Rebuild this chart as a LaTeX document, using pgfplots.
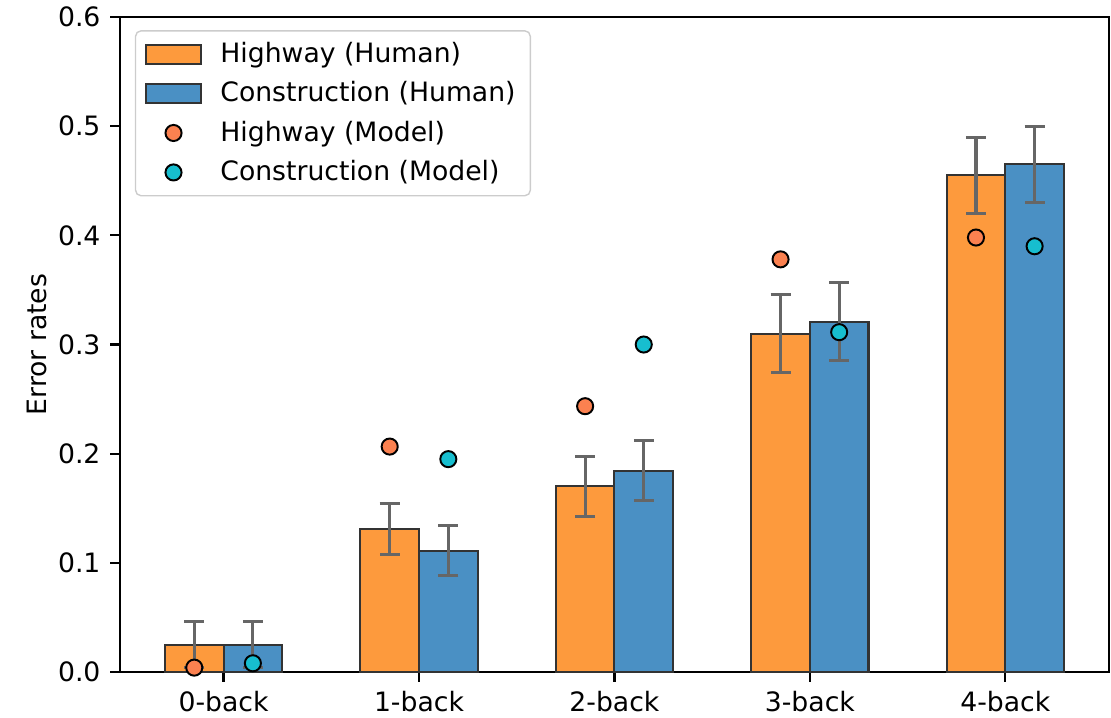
\documentclass[border=0pt]{standalone}
\usepackage{pgfplots}
\pgfplotsset{compat=1.18}
\usepackage{fontspec}
\setmainfont{DejaVu Sans}
\definecolor{horange}{HTML}{FD9A3D}
\definecolor{cblue}{HTML}{4A90C4}
\definecolor{morange}{HTML}{FB8150}
\definecolor{mcyan}{HTML}{17BECF}
\definecolor{edgec}{HTML}{333333}
\definecolor{errc}{HTML}{666666}
\definecolor{legc}{HTML}{CCCCCC}
\begin{document}
\begin{tikzpicture}[font=\fontsize{9.6}{11.5}\selectfont]
\begin{axis}[
  at={(0,0)}, anchor=south west,
  scale only axis, width=356pt, height=235.8pt,
  xmin=-0.53, xmax=4.53, ymin=0, ymax=0.6,
  xtick={0,1,2,3,4},
  xticklabels={0-back,1-back,2-back,3-back,4-back},
  ytick={0,0.1,0.2,0.3,0.4,0.5,0.6},
  yticklabel style={/pgf/number format/fixed, /pgf/number format/fixed zerofill, /pgf/number format/precision=1},
  /pgf/number format/assume math mode=true,
  tick align=outside, tick pos=left, major tick length=3.5pt,
  axis line style={line width=0.8pt},
  every tick/.style={black, line width=0.8pt},
  ylabel={Error rates},
  every axis y label/.style={at={(axis description cs:0,0.5)}, xshift=-30pt, rotate=90, anchor=center},
  legend cell align=left,
  legend style={at={(0.015,0.98)}, anchor=north west, draw=legc, line width=0.5pt, rounded corners=2pt,
    fill=white, row sep=1.4pt, inner xsep=3.3pt, inner ysep=2pt,
    /tikz/every odd column/.append style={column sep=4.5pt}},
]
\addplot[ybar, bar width=0.3, bar shift=0pt, fill=horange, draw=edgec, line width=0.75pt,
  legend image code/.code={\draw[sharp corners, fill=horange, draw=edgec, line width=0.75pt] (0pt,-3.4pt) rectangle (20pt,3.4pt);},
  error bars/.cd, y dir=both, y explicit,
  error bar style={errc, line width=1.1pt},
  error mark options={errc, rotate=90, mark size=3.6pt, line width=1.1pt}]
coordinates {
  (-0.15,0.025) +- (0,0.021)
  (0.85,0.131) +- (0,0.023)
  (1.85,0.170) +- (0,0.0275)
  (2.85,0.310) +- (0,0.0356)
  (3.85,0.455) +- (0,0.035)
};
\addlegendentry{Highway (Human)}
\addplot[ybar, bar width=0.3, bar shift=0pt, fill=cblue, draw=edgec, line width=0.75pt,
  legend image code/.code={\draw[sharp corners, fill=cblue, draw=edgec, line width=0.75pt] (0pt,-3.4pt) rectangle (20pt,3.4pt);},
  error bars/.cd, y dir=both, y explicit,
  error bar style={errc, line width=1.1pt},
  error mark options={errc, rotate=90, mark size=3.6pt, line width=1.1pt}]
coordinates {
  (0.15,0.025) +- (0,0.021)
  (1.15,0.111) +- (0,0.023)
  (2.15,0.1845) +- (0,0.0275)
  (3.15,0.321) +- (0,0.036)
  (4.15,0.465) +- (0,0.0345)
};
\addlegendentry{Construction (Human)}
\addplot[only marks, mark=*, mark size=2.9pt, mark options={fill=morange, draw=black, line width=0.7pt},
  legend image code/.code={\draw[mark=*, mark size=2.9pt, mark options={fill=morange, draw=black, line width=0.7pt}] plot coordinates {(10pt,0pt)};}]
coordinates {
  (-0.15,0.004) (0.85,0.2065) (1.85,0.2435) (2.85,0.378) (3.85,0.398)
};
\addlegendentry{Highway (Model)}
\addplot[only marks, mark=*, mark size=2.9pt, mark options={fill=mcyan, draw=black, line width=0.7pt},
  legend image code/.code={\draw[mark=*, mark size=2.9pt, mark options={fill=mcyan, draw=black, line width=0.7pt}] plot coordinates {(10pt,0pt)};}]
coordinates {
  (0.15,0.008) (1.15,0.195) (2.15,0.300) (3.15,0.3113) (4.15,0.390)
};
\addlegendentry{Construction (Model)}
\end{axis}
\pgfresetboundingbox
\path (-43.2pt,-16.2pt) rectangle (356.76pt,241.92pt);
\end{tikzpicture}
\end{document}
